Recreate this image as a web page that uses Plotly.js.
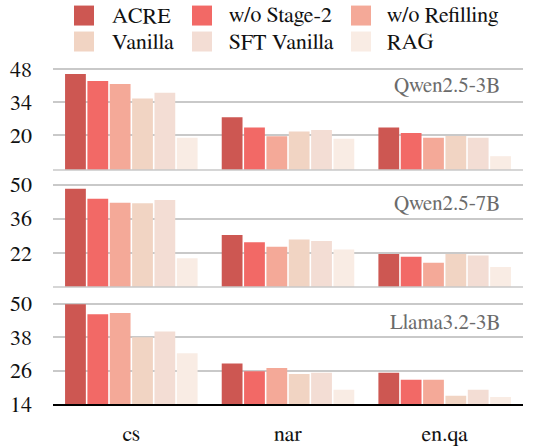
<!DOCTYPE html>
<html>
<head>
<meta charset="utf-8">
<script src="https://cdn.plot.ly/plotly-3.0.1.min.js"></script>
<style>html,body{margin:0;padding:0;background:#fff;}#chart{width:541px;height:448px;}</style>
</head>
<body>
<div id="chart"></div>
<script>
const categories = ["cs", "nar", "en.qa"];
const seriesNames = ["ACRE", "w/o Stage-2", "w/o Refilling", "Vanilla", "SFT Vanilla", "RAG"];
const seriesColors = ["#CD5752", "#F26966", "#F4A998", "#F1D4C3", "#F3DDD4", "#F9ECE4"];
const modelNames = ["Qwen2.5-3B", "Qwen2.5-7B", "Llama3.2-3B"];

// values per model: one array per series, over categories
const qwen3b = [
  [46.0, 27.5, 23.2],
  [43.0, 23.2, 20.8],
  [41.8, 19.4, 18.8],
  [35.6, 21.4, 19.5],
  [38.0, 22.1, 18.8],
  [18.8, 18.4, 10.9]
];
const qwen7b = [
  [48.3, 29.3, 21.5],
  [44.2, 26.4, 20.4],
  [42.6, 24.5, 17.9],
  [42.4, 27.5, 21.5],
  [43.7, 26.9, 20.9],
  [19.8, 23.4, 16.2]
];
const llama3b = [
  [49.8, 28.5, 25.2],
  [46.2, 25.8, 22.7],
  [46.7, 26.9, 22.7],
  [38.0, 24.8, 17.0],
  [40.0, 25.2, 19.1],
  [32.2, 19.1, 16.5]
];
const yRanges = [[5, 55], [8, 56], [14, 56]];
const yTicks = [[20, 34, 48], [22, 36, 50], [14, 26, 38, 50]];

const panels = [qwen3b, qwen7b, llama3b];
const yNames = ["y", "y2", "y3"];
const traces = [];
panels.forEach((panel, p) => {
  panel.forEach((vals, s) => {
    traces.push({
      type: "bar",
      x: categories,
      y: vals,
      name: seriesNames[s],
      xaxis: "x",
      yaxis: yNames[p],
      marker: {color: seriesColors[s], line: {width: 0}},
      showlegend: false,
      hoverinfo: "skip"
    });
  });
});

const FAM = "FreeSerif";
function F(size, color) { return {family: FAM, size: size, color: color || "#111"}; }
function yax(p, domain) {
  return {
    domain: domain,
    range: yRanges[p],
    tickvals: yTicks[p],
    showgrid: true,
    gridcolor: "#c9c9c9",
    gridwidth: 1.5,
    zeroline: false,
    showline: false,
    ticks: "",
    ticklabelstandoff: 20,
    tickfont: F(22),
    fixedrange: true,
    anchor: "x"
  };
}

const shapes = [];
const annotations = [];
// grey bottom lines of upper panels
["y domain", "y2 domain"].forEach(r => {
  shapes.push({type: "line", xref: "paper", yref: r, x0: 0, x1: 1, y0: 0, y1: 0,
    line: {color: "#c9c9c9", width: 1.5}});
});
// model labels
const annYRef = ["y domain", "y2 domain", "y3 domain"];
const annY = [0.72, 0.71, 0.70];
modelNames.forEach((m, i) => {
  annotations.push({text: m, xref: "paper", yref: annYRef[i], x: 0.955, y: annY[i],
    xanchor: "right", yanchor: "middle", showarrow: false,
    font: F(21, "#6b6b6b")});
});
// custom legend (2 rows x 3 columns)
const legX = [74, 192, 351];
const legTextX = [110, 227, 385];
const legY = [15.5, 41.5];
seriesNames.forEach((n, i) => {
  const col = i % 3, row = Math.floor(i / 3);
  const W = 541, H = 448, ml = 53, mr = 18, mt = 53, mb = 43.5;
  const pw = W - ml - mr, ph = H - mt - mb;
  const toPX = px => (px - ml) / pw;
  const toPY = py => (H - mb - py) / ph;
  shapes.push({type: "rect", xref: "paper", yref: "paper",
    x0: toPX(legX[col]), x1: toPX(legX[col] + 20),
    y0: toPY(legY[row] - 10), y1: toPY(legY[row] + 10),
    fillcolor: seriesColors[i], line: {width: 0}});
  annotations.push({text: n, xref: "paper", yref: "paper",
    x: toPX(legTextX[col]), y: toPY(legY[row]), xanchor: "left", yanchor: "middle",
    showarrow: false, font: F(22)});
});

const layout = {
  width: 541, height: 448,
  margin: {l: 53, r: 18, t: 53, b: 43.5},
  paper_bgcolor: "#fff", plot_bgcolor: "#fff",
  barmode: "group",
  bargap: 0.144,
  bargroupgap: 0.07,
  showlegend: false,
  font: F(22),
  xaxis: {
    anchor: "y3",
    type: "category",
    range: [-0.5, 2.5],
    showgrid: false,
    showline: true,
    linecolor: "#000",
    linewidth: 1.5,
    ticks: "",
    ticklabelstandoff: 9,
    tickfont: F(22),
    fixedrange: true
  },
  yaxis: yax(0, [2/3, 1]),
  yaxis2: yax(1, [1/3, 2/3]),
  yaxis3: yax(2, [0, 1/3]),
  shapes: shapes,
  annotations: annotations
};

Plotly.newPlot("chart", traces, layout, {displayModeBar: false});
</script>
</body>
</html>
